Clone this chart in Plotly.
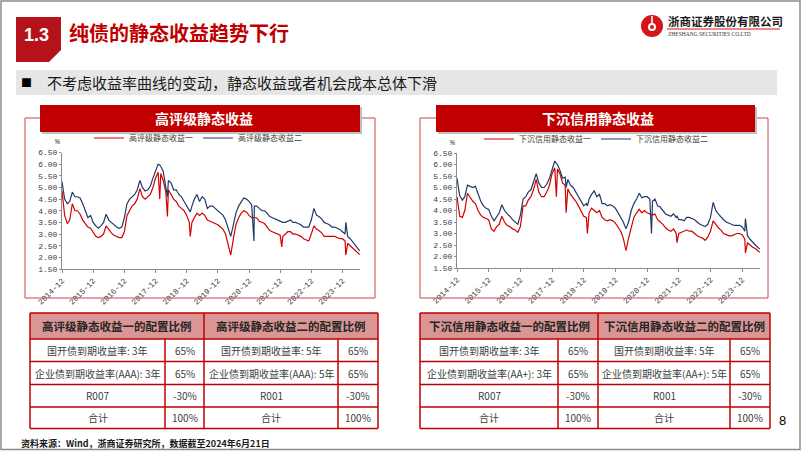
import plotly.graph_objects as go
import pandas as pd

W, H = 802, 451

# ---------------- data ----------------
first_month = "2014-12-01"
last_date = "2024-06-21"
x_tick_dates = ["2014-12-01", "2015-12-01", "2016-12-01", "2017-12-01", "2018-12-01",
                "2019-12-01", "2020-12-01", "2021-12-01", "2022-12-01", "2023-12-01"]
x_tick_labels = ["2014-12", "2015-12", "2016-12", "2017-12", "2018-12",
                 "2019-12", "2020-12", "2021-12", "2022-12", "2023-12"]
y_tick_vals = [1.5, 2.0, 2.5, 3.0, 3.5, 4.0, 4.5, 5.0, 5.5, 6.0, 6.5]

# 高评级静态收益 (monthly, 2014-12 .. 2024-06)
hg_1 = [4.85, 3.8, 3.45, 3.6, 4.3, 4.0, 4.0, 3.85, 3.6, 3.45, 3.3, 3.25,
        3.1, 2.9, 2.85, 2.9, 3.0, 3.35, 3.2, 3.05, 2.95, 2.9, 2.85, 2.85,
        3.1, 3.8, 4.0, 4.2, 4.3, 4.5, 4.95, 4.6, 4.5, 4.6, 4.7, 5.0,
        5.4, 5.65, 5.6, 5.3, 4.8, 4.9, 4.7, 4.5, 4.4, 4.2, 4.1, 4.0,
        3.8, 3.5, 3.5, 3.7, 3.9, 3.8, 3.9, 3.8, 3.6, 3.55, 3.5, 3.45,
        3.4, 3.3, 3.2, 3.0, 2.5, 2.1, 2.8, 3.4, 3.7, 3.9, 4.0, 3.95,
        3.8, 3.7, 3.7, 3.7, 3.55, 3.5, 3.45, 3.3, 3.15, 3.1, 3.05, 3.0,
        2.95, 2.9, 3.0, 3.1, 3.1, 3.0, 3.0, 2.95, 2.9, 2.8, 2.75, 2.7,
        3.0, 3.35, 3.2, 3.15, 3.05, 2.9, 2.9, 2.9, 2.9, 2.9, 2.85, 2.8,
        2.8, 2.7, 2.6, 2.5, 2.4, 2.3, 2.12]
hg_2 = [5.25, 4.5, 4.3, 4.4, 4.8, 4.6, 4.6, 4.55, 4.3, 4.0, 3.7, 3.8,
        3.5, 3.35, 3.25, 3.35, 3.5, 3.85, 3.6, 3.5, 3.4, 3.3, 3.25, 3.3,
        3.7, 4.3, 4.5, 4.6, 4.7, 4.9, 5.3, 5.0, 4.85, 4.9, 5.05, 5.4,
        5.7, 6.0, 5.9, 5.7, 5.0, 5.3, 5.2, 4.9, 4.9, 4.7, 4.6, 4.4,
        4.2, 4.0, 4.2, 4.5, 4.7, 4.4, 4.6, 4.5, 4.1, 4.2, 4.2, 4.1,
        4.0, 3.9, 3.8, 3.6, 3.2, 2.9, 3.4, 3.9, 4.2, 4.4, 4.55, 4.5,
        4.4, 4.25, 4.2, 4.2, 4.1, 4.0, 4.0, 3.9, 3.75, 3.7, 3.65, 3.6,
        3.55, 3.5, 3.5, 3.55, 3.6, 3.5, 3.5, 3.45, 3.4, 3.3, 3.3, 3.3,
        3.6, 4.1, 3.8, 3.75, 3.65, 3.5, 3.45, 3.4, 3.3, 3.3, 3.25, 3.2,
        3.1, 3.0, 2.9, 2.8, 2.65, 2.5, 2.28]
hg_spike_dates = ["2018-01-20", "2018-04-20", "2019-01-12", "2021-01-28", "2021-12-20", "2024-01-10"]
hg_spike_1 = [4.5, 3.75, 2.9, 3.7, 2.45, 2.1]
hg_spike_2 = [5.95, 4.6, 3.95, 2.7, 3.5, 3.5]

# 下沉信用静态收益 (monthly, 2014-12 .. 2024-06)
xc_1 = [4.6, 3.75, 3.7, 4.0, 4.75, 4.55, 4.4, 4.3, 4.0, 3.8, 3.7, 3.65,
        3.6, 3.2, 3.1, 3.3, 3.4, 3.75, 3.5, 3.35, 3.3, 3.2, 3.15, 3.05,
        3.3, 4.2, 4.2, 4.45, 4.6, 4.9, 5.35, 4.8, 4.6, 4.6, 4.8, 5.1,
        5.6, 5.85, 5.8, 5.6, 5.2, 5.1, 4.95, 4.7, 4.55, 4.4, 4.2, 4.0,
        3.75, 3.7, 3.9, 4.1, 4.0, 3.9, 4.0, 3.7, 3.6, 3.55, 3.6, 3.55,
        3.45, 3.3, 3.1, 2.8, 2.25, 2.8, 3.3, 3.7, 3.9, 4.05, 3.9, 4.0,
        3.9, 3.85, 3.8, 3.85, 3.6, 3.5, 3.4, 3.25, 3.15, 3.1, 3.2, 3.0,
        3.0, 3.05, 3.1, 3.15, 3.1, 3.1, 3.0, 2.9, 2.85, 2.8, 2.7, 2.85,
        3.1, 3.55, 3.4, 3.25, 3.15, 3.0, 2.95, 2.9, 2.9, 2.95, 3.0, 3.0,
        2.95, 2.75, 2.6, 2.5, 2.4, 2.35, 2.18]
xc_2 = [5.4, 4.65, 4.45, 4.6, 5.1, 5.05, 5.0, 5.05, 4.7, 4.4, 4.2, 4.1,
        4.05, 3.75, 3.55, 3.7, 3.9, 4.25, 4.0, 3.85, 3.75, 3.6, 3.5, 3.4,
        3.8, 4.5, 4.6, 4.8, 4.9, 5.2, 5.6, 5.2, 5.0, 5.0, 5.15, 5.4,
        5.8, 6.15, 6.0, 5.75, 5.4, 5.45, 5.35, 5.1, 5.0, 4.8, 4.6, 4.4,
        4.2, 4.3, 4.5, 4.7, 4.85, 4.6, 4.7, 4.3, 4.3, 4.2, 4.25, 4.2,
        4.1, 3.9, 3.7, 3.5, 3.2, 3.5, 4.0, 4.3, 4.5, 4.75, 4.55, 4.6,
        4.6, 4.5, 4.4, 4.5, 4.2, 4.15, 4.0, 3.85, 3.8, 3.75, 3.85, 3.7,
        3.6, 3.6, 3.55, 3.7, 3.7, 3.65, 3.6, 3.5, 3.4, 3.35, 3.3, 3.4,
        3.7, 4.35, 4.0, 3.85, 3.7, 3.6, 3.5, 3.45, 3.4, 3.35, 3.35, 3.35,
        3.3, 3.1, 2.9, 2.75, 2.6, 2.5, 2.32]
xc_spike_dates = ["2018-01-20", "2018-05-12", "2019-01-12", "2021-01-20", "2021-11-10", "2024-01-08"]
xc_spike_1 = [4.6, 3.9, 3.0, 3.85, 2.6, 2.15]
xc_spike_2 = [6.05, 5.0, 4.2, 3.0, 3.75, 3.65]

hg_names = ["高评级静态收益一", "高评级静态收益二"]
xc_names = ["下沉信用静态收益一", "下沉信用静态收益二"]

hg_table_head = ["高评级静态收益一的配置比例", "高评级静态收益二的配置比例"]
hg_table_rows = [["国开债到期收益率: 3年", "65%", "国开债到期收益率: 5年", "65%"],
                 ["企业债到期收益率(AAA): 3年", "65%", "企业债到期收益率(AAA): 5年", "65%"],
                 ["R007", "-30%", "R001", "-30%"],
                 ["合计", "100%", "合计", "100%"]]
xc_table_head = ["下沉信用静态收益一的配置比例", "下沉信用静态收益二的配置比例"]
xc_table_rows = [["国开债到期收益率: 3年", "65%", "国开债到期收益率: 5年", "65%"],
                 ["企业债到期收益率(AA+): 3年", "65%", "企业债到期收益率(AA+): 5年", "65%"],
                 ["R007", "-30%", "R001", "-30%"],
                 ["合计", "100%", "合计", "100%"]]

# ---------------- helpers ----------------
CJK = "Noto Sans CJK SC"
MONO = "Liberation Mono"
RED = "#C00000"
LINE_RED = "#D40000"
LINE_BLUE = "#1F3A68"


def series(month_vals, spike_dates, spike_vals):
    dates = list(pd.date_range(first_month, periods=len(month_vals), freq="MS"))
    dates[-1] = pd.Timestamp(last_date)
    s = pd.Series(month_vals, index=dates)
    s2 = pd.Series(spike_vals, index=pd.to_datetime(spike_dates))
    return pd.concat([s, s2]).sort_index()


def X(x):
    return x / W


def Y(y):
    return 1 - y / H


shapes = []
annotations = []


def rect(x0, y0, x1, y1, fill=None, line=None, lw=1):
    shapes.append(dict(type="rect", xref="paper", yref="paper",
                       x0=X(x0), x1=X(x1), y0=Y(y1), y1=Y(y0),
                       fillcolor=fill if fill else "rgba(0,0,0,0)",
                       line=dict(color=line if line else "rgba(0,0,0,0)", width=lw if line else 0)))


def seg(x0, y0, x1, y1, color, lw=1):
    shapes.append(dict(type="line", xref="paper", yref="paper",
                       x0=X(x0), x1=X(x1), y0=Y(y0), y1=Y(y1),
                       line=dict(color=color, width=lw)))


def text(x, y, s, size, color="#262626", bold=False, family=CJK, xanchor="center"):
    annotations.append(dict(xref="paper", yref="paper", x=X(x), y=Y(y),
                            text=f"<b>{s}</b>" if bold else s, showarrow=False,
                            font=dict(size=size, color=color, family=family),
                            xanchor=xanchor, yanchor="middle", borderpad=0))


def path(points, fill):
    d = "M " + " L ".join(f"{X(px):.5f},{Y(py):.5f}" for px, py in points) + " Z"
    shapes.append(dict(type="path", xref="paper", yref="paper", path=d,
                       fillcolor=fill, line=dict(width=0)))


def table(cols, rows_y, head, rows):
    bc = RED
    rect(cols[0], rows_y[0], cols[-1], rows_y[1], fill="#DA9694")
    for y in rows_y:
        seg(cols[0], y, cols[-1], y, bc, 1.5)
    seg(cols[0], rows_y[0], cols[0], rows_y[-1], bc, 1.5)
    seg(cols[-1], rows_y[0], cols[-1], rows_y[-1], bc, 1.5)
    seg(cols[2], rows_y[0], cols[2], rows_y[-1], bc, 1.5)
    seg(cols[1], rows_y[1], cols[1], rows_y[-1], bc, 1.5)
    seg(cols[3], rows_y[1], cols[3], rows_y[-1], bc, 1.5)
    hy = (rows_y[0] + rows_y[1]) / 2
    text((cols[0] + cols[2]) / 2, hy, head[0], 11.5, "#262626", bold=True)
    text((cols[2] + cols[4]) / 2, hy, head[1], 11.5, "#262626", bold=True)
    for i, r in enumerate(rows):
        cy = (rows_y[i + 1] + rows_y[i + 2]) / 2
        for j, v in enumerate(r):
            text((cols[j] + cols[j + 1]) / 2, cy, v, 10, "#404040")


# ---------------- figure ----------------
fig = go.Figure()

hg_s1 = series(hg_1, hg_spike_dates, hg_spike_1)
hg_s2 = series(hg_2, hg_spike_dates, hg_spike_2)
xc_s1 = series(xc_1, xc_spike_dates, xc_spike_1)
xc_s2 = series(xc_2, xc_spike_dates, xc_spike_2)

fig.add_trace(go.Scatter(x=hg_s1.index, y=hg_s1.values, name=hg_names[0], mode="lines",
                         line=dict(color=LINE_RED, width=1.2), xaxis="x", yaxis="y", legend="legend"))
fig.add_trace(go.Scatter(x=hg_s2.index, y=hg_s2.values, name=hg_names[1], mode="lines",
                         line=dict(color=LINE_BLUE, width=1.2), xaxis="x", yaxis="y", legend="legend"))
fig.add_trace(go.Scatter(x=xc_s1.index, y=xc_s1.values, name=xc_names[0], mode="lines",
                         line=dict(color=LINE_RED, width=1.2), xaxis="x2", yaxis="y2", legend="legend2"))
fig.add_trace(go.Scatter(x=xc_s2.index, y=xc_s2.values, name=xc_names[1], mode="lines",
                         line=dict(color=LINE_BLUE, width=1.2), xaxis="x2", yaxis="y2", legend="legend2"))

xax = dict(type="date", range=["2014-12-01", "2024-06-24"], tickvals=x_tick_dates, ticktext=x_tick_labels,
           tickangle=-45, tickfont=dict(family=MONO, size=8, color="#404040"),
           showline=True, linecolor="#8C8C8C", linewidth=1, ticks="outside", ticklen=3,
           tickcolor="#8C8C8C", showgrid=False, zeroline=False, fixedrange=True, automargin=False)
yax = dict(range=[1.5, 6.5], tickvals=y_tick_vals, tickformat=".2f",
           tickfont=dict(family=MONO, size=8, color="#404040"),
           showline=True, linecolor="#8C8C8C", linewidth=1, ticks="outside", ticklen=2,
           tickcolor="#8C8C8C", showgrid=False, zeroline=False, fixedrange=True, automargin=False)

# slide border
rect(1, 1, 800, 449.5, line="#8C8C8C", lw=1.5)

# title block
path([(16, 17), (61, 17), (61, 50), (49, 62), (16, 62)], "#B5121B")
text(36, 35, "1.3", 18, "white", bold=True, family="Arial")
text(68, 33, "纯债的静态收益趋势下行", 20, RED, bold=True, xanchor="left")

# logo
shapes.append(dict(type="circle", xref="paper", yref="paper", x0=X(641), x1=X(663), y0=Y(37), y1=Y(15),
                   fillcolor="#D7141A", line=dict(width=0)))
shapes.append(dict(type="circle", xref="paper", yref="paper", x0=X(648), x1=X(656), y0=Y(31), y1=Y(23),
                   fillcolor="white", line=dict(width=0)))
shapes.append(dict(type="circle", xref="paper", yref="paper", x0=X(650), x1=X(654), y0=Y(29), y1=Y(25),
                   fillcolor="#D7141A", line=dict(width=0)))
seg(652, 16, 652, 23, "white", 1.5)
text(667, 21, "浙商证券股份有限公司", 11.5, "#1A1A1A", bold=True, xanchor="left")
seg(667, 29, 780, 29, "#D7141A", 1)
text(667, 34, "ZHESHANG SECURITIES CO.LTD", 5.5, "#333333", family="Liberation Serif", xanchor="left")

# grey bar
rect(16, 70, 777, 95, fill="#E6E6E6")
text(26, 82, "■", 11, "#000000")
text(46, 82, "不考虑收益率曲线的变动，静态收益或者机会成本总体下滑", 15, "#1A1A1A", xanchor="left")

# chart boxes
rect(25, 118, 375, 298, line="#C8474A", lw=1)
rect(420, 118, 768, 298, line="#C8474A", lw=1)
rect(42, 107, 362, 134, fill="#BFBFBF")
rect(40, 105, 360, 132, fill=RED)
text(204, 118.5, "高评级静态收益", 14, "white", bold=True)
rect(438, 107, 757, 134, fill="#BFBFBF")
rect(436, 105, 755, 132, fill=RED)
text(598, 118.5, "下沉信用静态收益", 14, "white", bold=True)
text(57, 141, "%", 8, "#404040", family=MONO)
text(452, 142, "%", 8, "#404040", family=MONO)

# tables
rows_y = [313, 339, 361.5, 384.5, 407, 428.5]
table([30, 165, 204, 338, 378], rows_y, hg_table_head, hg_table_rows)
table([420, 558, 598, 730, 770], rows_y, xc_table_head, xc_table_rows)

# footer & page
text(20, 443, "资料来源：Wind，浙商证券研究所，数据截至2024年6月21日", 9, "#1A1A1A", bold=True, xanchor="left")
text(782, 420, "8", 13, "#000000", family="Arial")

leg = dict(orientation="h", xanchor="center", yanchor="middle", bgcolor="rgba(0,0,0,0)",
           font=dict(family=CJK, size=8, color="#404040"), itemwidth=30, tracegroupgap=0)

fig.update_layout(
    width=W, height=H, autosize=False,
    margin=dict(l=0, r=0, t=0, b=0, autoexpand=False),
    paper_bgcolor="white", plot_bgcolor="white",
    xaxis=dict(xax, domain=[X(62), X(360)], anchor="y"),
    yaxis=dict(yax, domain=[Y(269), Y(152.5)], anchor="x"),
    xaxis2=dict(xax, domain=[X(457), X(760)], anchor="y2"),
    yaxis2=dict(yax, domain=[Y(268), Y(153)], anchor="x2"),
    legend=dict(leg, x=X(198), y=Y(138)),
    legend2=dict(leg, x=X(596), y=Y(139)),
    shapes=shapes, annotations=annotations,
)

fig.write_html("out.html")
